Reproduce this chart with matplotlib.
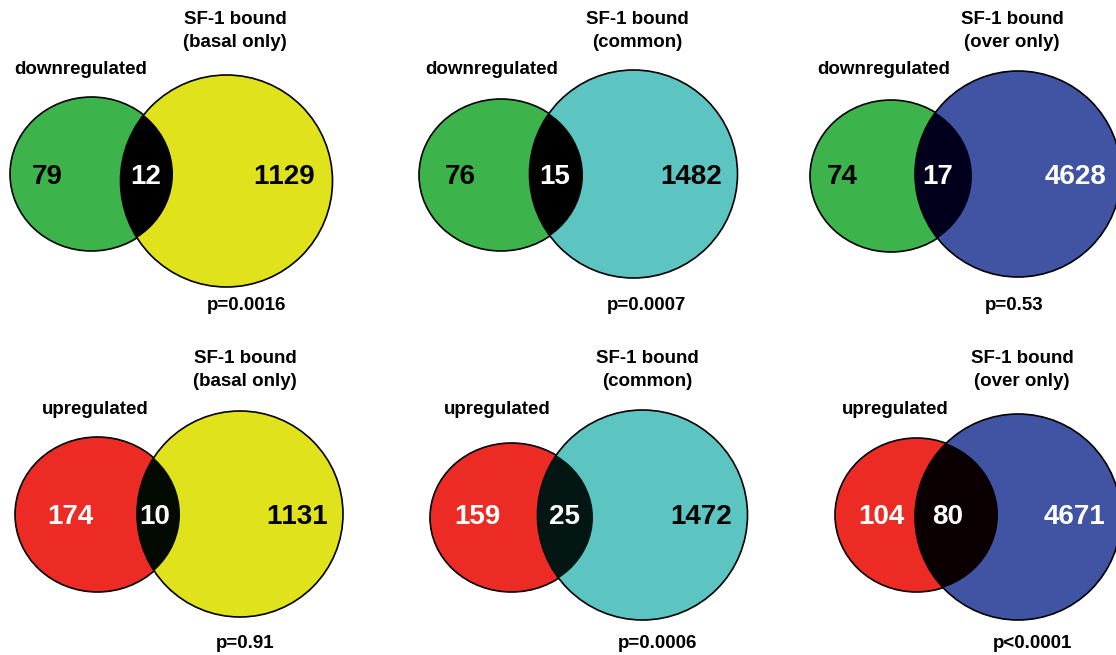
import matplotlib
matplotlib.use("Agg")
import matplotlib.pyplot as plt
from matplotlib.patches import Ellipse, Circle

plt.rcParams['font.family'] = ['Liberation Sans', 'DejaVu Sans']
try:
    # the figure's digits are not kerned ("11" stays wide)
    plt.rcParams['text.kerning_factor'] = 10
except KeyError:
    pass

# data, panels in reading order
groups = ['downregulated', 'downregulated', 'downregulated',
          'upregulated', 'upregulated', 'upregulated']
sets = ['SF-1 bound\n(basal only)', 'SF-1 bound\n(common)', 'SF-1 bound\n(over only)',
        'SF-1 bound\n(basal only)', 'SF-1 bound\n(common)', 'SF-1 bound\n(over only)']
only_group = [79, 76, 74, 174, 159, 104]
overlap = [12, 15, 17, 10, 25, 80]
only_set = [1129, 1482, 4628, 1131, 1472, 4671]
pvals = ['p=0.0016', 'p=0.0007', 'p=0.53', 'p=0.91', 'p=0.0006', 'p<0.0001']

# colours
group_col = ['#3cb44b', '#3cb44b', '#3cb44b', '#ec2c24', '#ec2c24', '#ec2c24']
set_col = ['#e0e21b', '#5dc5c1', '#4154a4', '#e0e21b', '#5dc5c1', '#4154a4']
lens_col = ['#000000', '#000000', '#00001c', '#020a02', '#031614', '#0a0002']
txt_col = [('black', 'white', 'black'), ('black', 'white', 'black'), ('black', 'white', 'white'),
           ('white', 'white', 'black'), ('white', 'white', 'black'), ('white', 'white', 'white')]

# layout in pixels (y down)
small_c = [(91.5, 174), (501, 175), (891, 176), (97.5, 514.5), (511.5, 517.5), (916.5, 515)]
small_wh = [(163, 154), (164, 152), (162, 152), (165, 155), (163, 149), (163, 154)]
big_c = [(226.5, 181), (633.5, 174), (1018, 174), (240, 514), (642.5, 515), (1018, 517)]
big_r = [106, 104, 103, 103, 105, 103]
grp_xy = [(81, 70), (492, 70), (884, 70), (95, 410), (497, 410), (895, 410)]
set_xy = [(235, 31), (637, 31), (1012, 31), (245, 370), (647, 370), (1022, 370)]
p_xy = [(247, 306), (647, 306), (1014, 306), (245, 643), (658, 643), (1033, 643)]
num_x = [(47, 146, 284), (460, 555, 691), (842.5, 938, 1076),
         (70, 155, 297), (477.5, 564, 701), (881, 948, 1075)]
num_y = [177, 177, 177, 517, 517, 517]

fig = plt.figure(figsize=(11.16, 6.55), dpi=100)
ax = fig.add_axes([0, 0, 1, 1])
ax.set_xlim(0, 1116)
ax.set_ylim(655, 0)
ax.axis('off')

for i in range(6):
    sc, (sw, sh) = small_c[i], small_wh[i]
    ax.add_patch(Ellipse(sc, sw, sh, facecolor=group_col[i], edgecolor='black', lw=1.2, zorder=1))
    big = Circle(big_c[i], big_r[i], facecolor=set_col[i], edgecolor='black', lw=1.2, zorder=2)
    ax.add_patch(big)
    lens = Ellipse(sc, sw, sh, facecolor=lens_col[i], edgecolor='none', zorder=3)
    ax.add_patch(lens)
    lens.set_clip_path(big)

    ax.text(*grp_xy[i], groups[i], ha='center', va='center', fontsize=13.5, fontweight='bold')
    ax.text(*set_xy[i], sets[i], ha='center', va='center', fontsize=13.5, fontweight='bold',
            linespacing=1.42)
    ax.text(*p_xy[i], pvals[i], ha='center', va='center', fontsize=13.5, fontweight='bold')

    vals = [only_group[i], overlap[i], only_set[i]]
    for x, v, c in zip(num_x[i], vals, txt_col[i]):
        ax.text(x, num_y[i], str(v), ha='center', va='center', fontsize=20,
                fontweight='bold', color=c, zorder=5)

fig.savefig('out.png', dpi=100)
